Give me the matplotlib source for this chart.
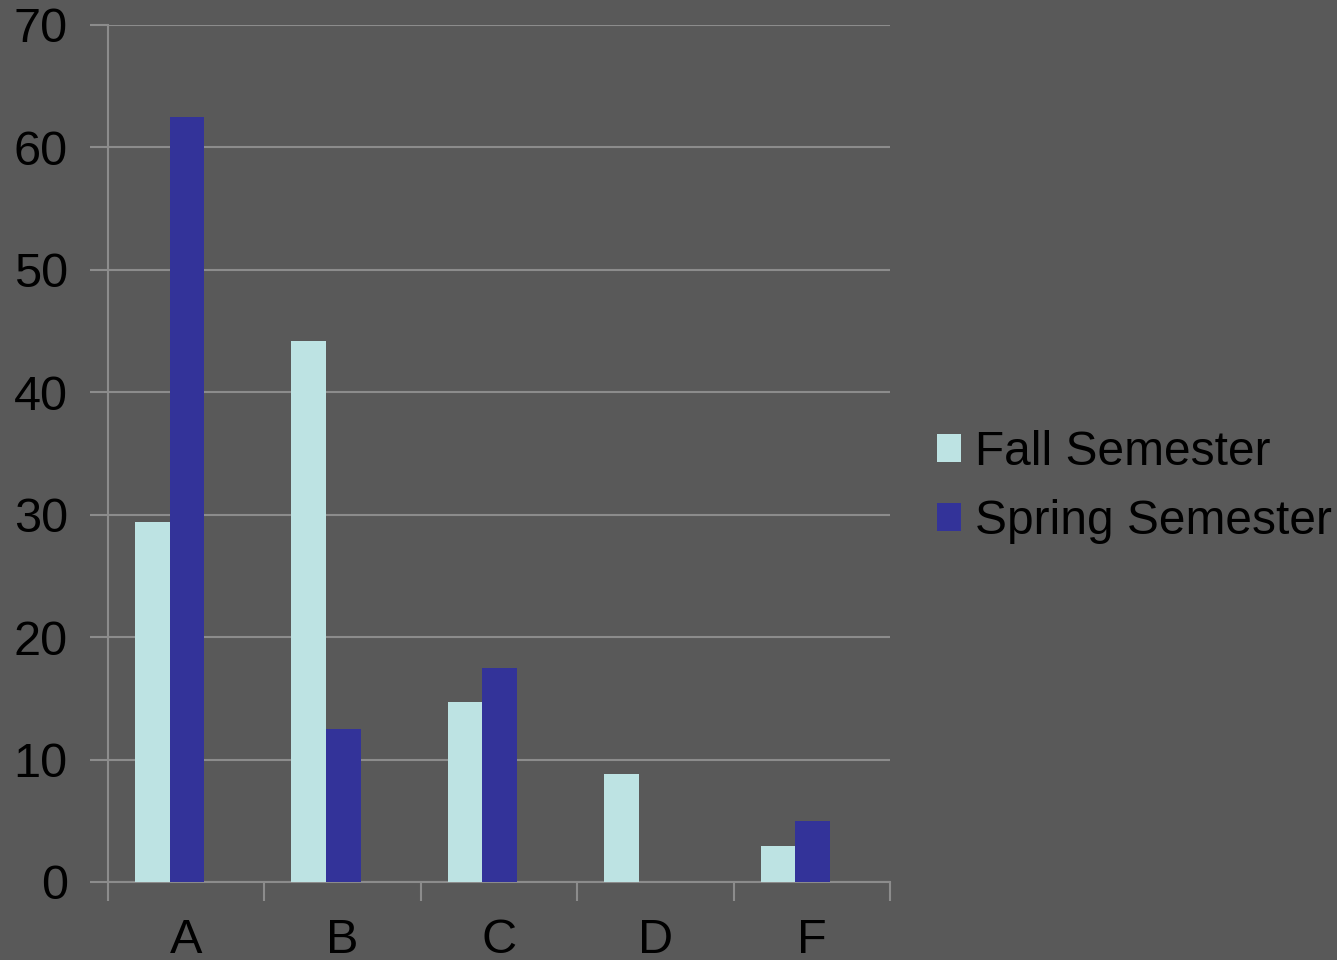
import numpy as np
import matplotlib.pyplot as plt

# Grade distribution, fall vs spring
grades = ["A", "B", "C", "D", "F"]
fall = [29.4, 44.2, 14.7, 8.8, 2.9]
spring = [62.5, 12.5, 17.5, 0, 5.0]

bg = "#595959"
line_col = "#8c8c8c"

plt.rcParams["font.family"] = ["Liberation Sans", "DejaVu Sans"]

fig = plt.figure(figsize=(13.37, 9.6), dpi=100, facecolor=bg)
ax = fig.add_axes([0.0808, 0.0813, 0.5849, 0.8927], facecolor=bg)

x = np.arange(len(grades))
w = 0.222
shift = -0.106  # bars sit a bit left of the category centre
ax.bar(x + shift - w / 2, fall, w, color="#bde3e3", label="Fall Semester", zorder=3)
ax.bar(x + shift + w / 2, spring, w, color="#333399", label="Spring Semester", zorder=3)

ax.set_xlim(-0.5, len(grades) - 0.5)
ax.set_ylim(0, 70)
ax.set_yticks(range(0, 71, 10))
ax.grid(axis="y", color=line_col, linewidth=1.5, zorder=0)

ax.set_xticks(x)
ax.set_xticklabels(grades)
ax.set_xticks(np.arange(-0.5, len(grades), 1), minor=True)
ax.tick_params(axis="x", which="major", length=0, labelsize=35, pad=26, colors="black")
ax.tick_params(axis="x", which="minor", length=14, width=1.5, color=line_col)
ax.tick_params(axis="y", length=13, width=1.5, color=line_col, labelsize=35, pad=16, labelcolor="black")

for s in ["top", "right"]:
    ax.spines[s].set_visible(False)
for s in ["left", "bottom"]:
    ax.spines[s].set_color(line_col)
    ax.spines[s].set_linewidth(1.5)

leg = ax.legend(loc="center left", bbox_to_anchor=(1.06, 0.461), frameon=False,
                fontsize=34.5, handlelength=0.5, handleheight=0.5,
                handletextpad=0.29, labelspacing=0.5, borderpad=0, borderaxespad=0)

plt.savefig("out.png", dpi=100, facecolor=bg)
